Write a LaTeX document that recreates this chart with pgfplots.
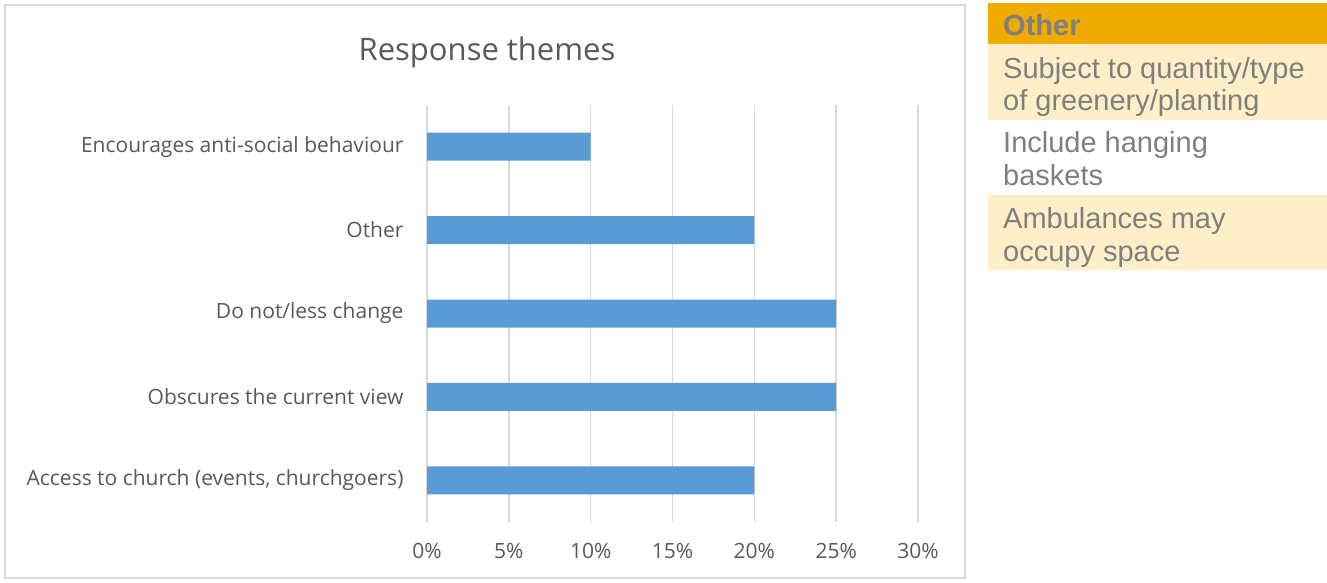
\documentclass[border=0pt]{standalone}
\usepackage{pgfplots}
\pgfplotsset{compat=1.18}
\usepackage{fontspec}
\setmainfont{Open Sans}
\newfontfamily\arialf{Liberation Sans}
\definecolor{barblue}{HTML}{5B9BD5}
\definecolor{txtgray}{HTML}{595959}
\definecolor{gridgray}{HTML}{D9D9D9}
\definecolor{hdrorange}{HTML}{F0AB00}
\definecolor{lightorange}{HTML}{FFEFC8}
\definecolor{tblgray}{HTML}{7F7F7F}
\begin{document}
\begin{tikzpicture}[x=1pt,y=1pt]
\path (0,0) rectangle (1327,582);
\draw[gridgray,line width=1.2pt] (5,4) rectangle (965,577);
\node[txtgray,font=\fontsize{31}{36}\selectfont] at (487,530) {Response themes};
\begin{axis}[
  at={(427pt,60pt)}, anchor=south west,
  scale only axis, width=491pt, height=417pt,
  xmin=0, xmax=30, ymin=-0.5, ymax=4.5,
  xtick={0,5,10,15,20,25,30},
  xticklabels={0\%,5\%,10\%,15\%,20\%,25\%,30\%},
  ytick={0,1,2,3,4},
  yticklabels={{Access to church (events, churchgoers)},{Obscures the current view},{Do not/less change},{Other},{Encourages anti-social behaviour}},
  xmajorgrids, major grid style={gridgray,line width=1.4pt},
  axis line style={draw=none}, tick style={draw=none},
  ticklabel style={txtgray,font=\fontsize{21}{25}\selectfont},
  /pgf/number format/assume math mode=true,
  xticklabel style={yshift=-18pt},
  yticklabel style={xshift=-20pt},
  clip=false,
]
\addplot[xbar, bar width=28pt, fill=barblue, draw=none] coordinates {(20,0) (25,1) (25,2) (20,3) (10,4)};
\end{axis}
\fill[hdrorange] (988,538) rectangle (1327,579);
\fill[lightorange] (988,462) rectangle (1327,538);
\fill[lightorange] (988,312) rectangle (1327,387);
\begin{scope}[every node/.style={anchor=base west, inner sep=0pt, tblgray, font=\arialf\fontsize{29}{33}\selectfont}]
\node[font=\arialf\bfseries\fontsize{29}{33}\selectfont] at (1003,546) {Other};
\node at (1003,503) {Subject to quantity/type};
\node at (1003,471) {of greenery/planting};
\node at (1003,429) {Include hanging};
\node at (1003,396) {baskets};
\node at (1003,353) {Ambulances may};
\node at (1003,321) {occupy space};
\end{scope}
\end{tikzpicture}
\end{document}
